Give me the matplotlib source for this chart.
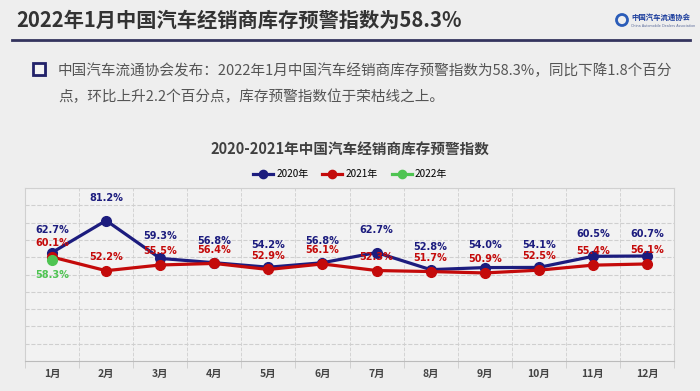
import matplotlib
matplotlib.use("Agg")
import matplotlib.pyplot as plt
from matplotlib.patches import Rectangle, Ellipse
from matplotlib.lines import Line2D

plt.rcParams['font.family'] = ['Noto Sans CJK SC', 'DejaVu Sans']

months = ['1月', '2月', '3月', '4月', '5月', '6月', '7月', '8月', '9月', '10月', '11月', '12月']
idx_2020 = [62.7, 81.2, 59.3, 56.8, 54.2, 56.8, 62.7, 52.8, 54.0, 54.1, 60.5, 60.7]
idx_2021 = [60.1, 52.2, 55.5, 56.4, 52.9, 56.1, 52.3, 51.7, 50.9, 52.5, 55.4, 56.1]
idx_2022 = [58.3]

c20 = '#1c1c7e'
c21 = '#c40a0a'
c22 = '#4fc452'

W, H = 700, 391
fig = plt.figure(figsize=(7, 3.91), dpi=100, facecolor='#eeeeee')


def fx(px):
    return px / W


def fy(py):
    return 1 - py / H


# header
fig.text(fx(16), fy(20), '2022年1月中国汽车经销商库存预警指数为58.3%', fontsize=14.6,
         fontweight='bold', color='#333333', va='center', ha='left')
fig.add_artist(Line2D([fx(12), fx(690)], [fy(40), fy(40)], color='#34345e', lw=2))

# logo
fig.add_artist(Ellipse((fx(622), fy(20)), fx(11), 11 / H, fill=False, ec='#2a5cb8', lw=2))
fig.text(fx(631), fy(17), '中国汽车流通协会', fontsize=5.3, fontweight='bold',
         color='#1a3c9c', va='center', ha='left')
fig.text(fx(631), fy(26), 'China Automobile Dealers Association', fontsize=2.4,
         color='#5a6a9a', va='center', ha='left', family=['DejaVu Sans'])

# bullet
fig.add_artist(Rectangle((fx(35), fy(77)), fx(12), 12 / H, fc='#b0b0b8', ec='none'))
fig.add_artist(Rectangle((fx(33), fy(75)), fx(12), 12 / H, fc='#f4f4f4', ec='#22226a', lw=2))
fig.text(fx(58), fy(71), '中国汽车流通协会发布：2022年1月中国汽车经销商库存预警指数为58.3%，同比下降1.8个百分',
         fontsize=10.5, color='#555555', va='center', ha='left')
fig.text(fx(58), fy(97), '点，环比上升2.2个百分点，库存预警指数位于荣枯线之上。',
         fontsize=10.5, color='#555555', va='center', ha='left')

# chart
fig.text(0.5, fy(150), '2020-2021年中国汽车经销商库存预警指数', fontsize=10.5,
         fontweight='bold', color='#404040', va='center', ha='center')

ax = fig.add_axes([fx(25), fy(361), fx(674 - 25), (361 - 188) / H])
ax.set_facecolor('#f2f2f2')
x = list(range(len(months)))
ax.plot(x, idx_2020, color=c20, lw=2.3, marker='o', ms=7, label='2020年', zorder=3)
ax.plot(x, idx_2021, color=c21, lw=2.3, marker='o', ms=7, label='2021年', zorder=4)
ax.plot(x[:len(idx_2022)], idx_2022, color=c22, lw=2.3, marker='o', ms=7, label='2022年', zorder=5)

lab_font = dict(fontsize=7, fontweight='bold', ha='center', va='center',
                family=['Liberation Sans Narrow', 'DejaVu Sans'])
for i, v in enumerate(idx_2020):
    ax.annotate(f'{v:.1f}%', (i, v), xytext=(0, 16), textcoords='offset points', color=c20, **lab_font)
for i, v in enumerate(idx_2021):
    ax.annotate(f'{v:.1f}%', (i, v), xytext=(0, 10), textcoords='offset points', color=c21, **lab_font)
for i, v in enumerate(idx_2022):
    ax.annotate(f'{v:.1f}%', (i, v), xytext=(0, -11), textcoords='offset points', color=c22, **lab_font)

ax.set_ylim(0, 100)
ax.set_xlim(-0.5, len(months) - 0.5)
ax.set_yticks(range(0, 101, 10))
ax.set_yticklabels([])
ax.tick_params(axis='y', length=0)
ax.set_xticks(x)
ax.set_xticklabels(months, fontsize=7.5, fontweight='bold', color='#444444')
ax.tick_params(axis='x', length=0, pad=6)
ax.set_xticks([i + 0.5 for i in range(-1, len(months))], minor=True)
ax.tick_params(axis='x', which='minor', length=5, color='#cccccc')
ax.grid(axis='y', which='major', color='#cfcfcf', ls='--', lw=0.8)
ax.grid(axis='x', which='minor', color='#d4d4d4', ls='--', lw=0.7)
for s in ax.spines.values():
    s.set_color('#d0d0d0')
    s.set_linewidth(0.8)
ax.spines['bottom'].set_color('#bbbbbb')

fig.legend(loc='center', bbox_to_anchor=(0.5, fy(174)), ncol=3, frameon=False,
           handlelength=2.0, handletextpad=0.3, columnspacing=1.4,
           markerscale=0.85, prop={'size': 7.2})

fig.savefig('out.png', dpi=100, facecolor=fig.get_facecolor())
